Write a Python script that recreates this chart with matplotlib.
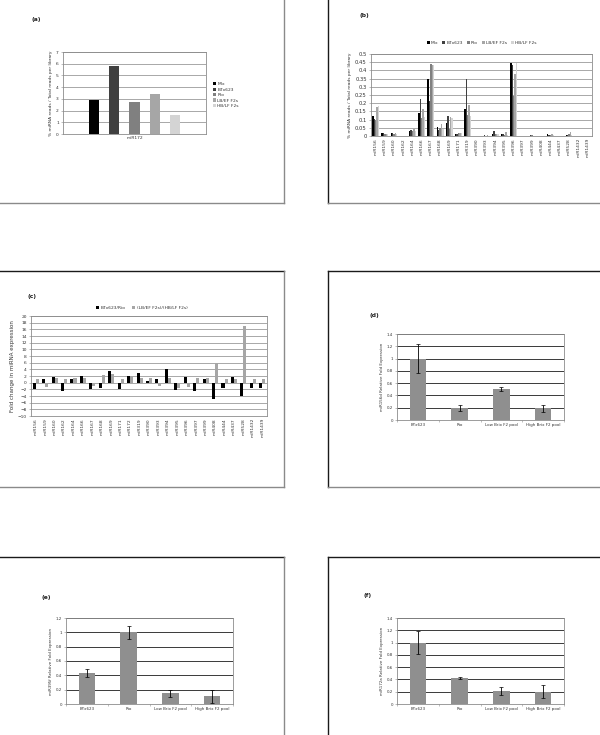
"""Six-panel miRNA figure: library read fractions (a, b), fold changes (c)
and qRT-PCR relative expression (d, e, f)."""
import numpy as np
import matplotlib
matplotlib.use("Agg")
import matplotlib.pyplot as plt
from matplotlib.lines import Line2D

W, H = 600, 735

# ---- data -------------------------------------------------------------
lib_names = ["Mix", "BTx623", "Rio", "LB/EF F2s", "HB/LF F2s"]
lib_colors = ["#000000", "#404040", "#808080", "#a6a6a6", "#d4d4d4"]

a_cat = ["miR172"]
a_vals = [2.9, 5.8, 2.7, 3.45, 1.65]

b_cat = ["miR156", "miR159", "miR160", "miR162", "miR164", "miR166", "miR167",
         "miR168", "miR169", "miR171", "miR319", "miR390", "miR393", "miR394",
         "miR395", "miR396", "miR397", "miR399", "miR408", "miR444", "miR437",
         "miR528", "miR1432", "miR1439"]
b_mix = [0.12, 0.02, 0.018, 0, 0.028, 0.14, 0.345, 0.055, 0.08, 0.015, 0.165, 0,
         0.003, 0.015, 0.01, 0.445, 0, 0.003, 0.001, 0.01, 0, 0.008, 0.002, 0]
b_btx = [0.105, 0.02, 0.018, 0, 0.038, 0.225, 0.215, 0.035, 0.125, 0.01, 0.35, 0,
         0.005, 0.028, 0.01, 0.435, 0, 0.005, 0.002, 0.008, 0, 0.005, 0.002, 0]
b_rio = [0.095, 0.015, 0.012, 0, 0.03, 0.11, 0.44, 0.05, 0.04, 0.02, 0.13, 0,
         0.003, 0.01, 0.005, 0.245, 0, 0.004, 0.001, 0.008, 0, 0.01, 0.001, 0]
b_lbef = [0.175, 0.012, 0.02, 0, 0.045, 0.165, 0.43, 0.075, 0.115, 0.02, 0.19, 0.002,
          0.005, 0.015, 0.025, 0.38, 0, 0.003, 0.002, 0.012, 0, 0.025, 0.002, 0]
b_hblf = [0.18, 0.012, 0.012, 0, 0.03, 0.115, 0.43, 0.04, 0.11, 0.02, 0.12, 0,
          0.003, 0.01, 0.008, 0.445, 0, 0.002, 0.001, 0.008, 0, 0.005, 0.001, 0]

c_cat = ["miR156", "miR159", "miR160", "miR162", "miR164", "miR166", "miR167",
         "miR168", "miR169", "miR171", "miR172", "miR319", "miR390", "miR393",
         "miR394", "miR395", "miR396", "miR397", "miR399", "miR408", "miR444",
         "miR437", "miR528", "miR1432", "miR1439"]
c_parent = [-1.8, 1.2, 1.8, -2.5, 1.2, 2.0, -2.0, -1.5, 3.5, -2.0, 2.0, 2.8, 0.5,
            1.2, 4.0, -2.2, 1.8, -2.5, 1.0, -5.0, -1.5, 1.8, -4.0, -1.5, -1.5]
c_f2 = [1.0, -1.2, 1.5, 1.2, 1.5, 1.5, -1.0, 2.2, 2.5, 1.0, 2.0, 1.5, 1.3,
        -1.0, 1.5, -1.5, -1.2, 1.5, 1.5, 6.0, 1.2, 1.2, 17.0, 1.2, 1.2]
c_names = ["BTx623/Rio", "(LB/EF F2s)/(HB/LF F2s)"]

q_cat = ["BTx623", "Rio", "Low Brix F2 pool", "High Brix F2 pool"]
d_vals = [1.0, 0.2, 0.5, 0.19]
d_err = [0.235, 0.05, 0.03, 0.055]
e_vals = [0.43, 1.0, 0.15, 0.11]
e_err = [0.06, 0.09, 0.05, 0.09]
f_vals = [1.0, 0.42, 0.21, 0.2]
f_err = [0.19, 0.012, 0.06, 0.11]

FS = 3.2
TXT = "#333333"
GRID_GRAY = "#9a9a9a"


def add_ax(fig, l, t, r, b):
    return fig.add_axes([l / W, 1 - b / H, (r - l) / W, (b - t) / H])


def style(ax, grid_color):
    for s in ax.spines.values():
        s.set_color("#8c8c8c")
        s.set_linewidth(0.6)
    ax.tick_params(labelsize=FS, length=1.5, width=0.4, colors="#8c8c8c",
                   labelcolor=TXT, pad=1.5)
    ax.set_axisbelow(True)
    ax.yaxis.grid(True, color=grid_color, lw=0.6)


def fig_line(fig, xs, ys, color, lw=1.0):
    fig.add_artist(Line2D([x / W for x in xs], [1 - y / H for y in ys],
                          color=color, lw=lw, transform=fig.transFigure))


def tag(fig, x, y, s):
    fig.text(x / W, 1 - y / H, s, fontsize=4.3, fontweight="bold", va="center",
             color="#222222")


def fmt(v):
    return ("%g" % v)


fig = plt.figure(figsize=(W / 100, H / 100), dpi=100)
fig.patch.set_facecolor("white")

# ---- panel boxes ------------------------------------------------------
DARK, LIGHT = "#1a1a1a", "#8a8a8a"
fig_line(fig, [284, 284], [-5, 203], LIGHT)
fig_line(fig, [-5, 284], [203, 203], LIGHT)
fig_line(fig, [328, 328], [-5, 203], DARK)
fig_line(fig, [328, 605], [203, 203], LIGHT)
fig_line(fig, [-5, 284], [271, 271], DARK)
fig_line(fig, [284, 284], [271, 487], LIGHT)
fig_line(fig, [-5, 284], [487, 487], LIGHT)
fig_line(fig, [328, 605], [271, 271], DARK)
fig_line(fig, [328, 328], [271, 487], DARK)
fig_line(fig, [328, 605], [487, 487], LIGHT)
fig_line(fig, [-5, 284], [557, 557], DARK)
fig_line(fig, [284, 284], [557, 740], LIGHT)
fig_line(fig, [328, 605], [557, 557], DARK)
fig_line(fig, [328, 328], [557, 740], DARK)

# ---- (a) ----------------------------------------------------------------
ax = add_ax(fig, 63, 52, 206, 134)
style(ax, GRID_GRAY)
for i, (v, c, n) in enumerate(zip(a_vals, lib_colors, lib_names)):
    ax.bar(i, v, width=0.5, color=c, label=n)
ax.set_xlim(-1.5, 5.5)
ax.set_ylim(0, 7)
ax.set_yticks(range(8))
ax.set_xticks([2])
ax.set_xticklabels(a_cat)
ax.tick_params(axis="x", length=0)
ax.set_ylabel("% miRNA reads / Total reads per library", fontsize=FS, labelpad=2,
              color=TXT)
ax.legend(loc="center left", bbox_to_anchor=(1.02, 0.475), fontsize=FS, frameon=False,
          handlelength=0.7, handleheight=0.7, handletextpad=0.3, labelspacing=0.3,
          labelcolor=TXT)
tag(fig, 31, 20, "(a)")

# ---- (b) ----------------------------------------------------------------
ax = add_ax(fig, 371, 54, 592, 136)
style(ax, GRID_GRAY)
x = np.arange(len(b_cat))
bw = 0.15
for k, (vals, c, n) in enumerate(zip([b_mix, b_btx, b_rio, b_lbef, b_hblf],
                                     lib_colors, lib_names)):
    ax.bar(x + (k - 2) * bw, vals, width=bw, color=c, label=n)
ax.set_xlim(-0.5, len(b_cat) - 0.5)
ax.set_ylim(0, 0.5)
yt = np.arange(0, 0.501, 0.05)
ax.set_yticks(yt)
ax.set_yticklabels([fmt(round(v, 2)) for v in yt])
ax.tick_params(axis="y", labelsize=FS + 0.6)
ax.set_xticks(x)
ax.set_xticklabels(b_cat, rotation=90)
ax.tick_params(axis="x", length=0)
ax.set_ylabel("% miRNA reads / Total reads per library", fontsize=FS, labelpad=2,
              color=TXT)
ax.legend(loc="lower center", bbox_to_anchor=(0.5, 1.06), ncol=5, fontsize=FS,
          frameon=False, handlelength=0.7, handleheight=0.7, handletextpad=0.3,
          columnspacing=0.8, labelcolor=TXT)
tag(fig, 360, 15, "(b)")

# ---- (c) ----------------------------------------------------------------
ax = add_ax(fig, 31, 316, 267, 416)
style(ax, GRID_GRAY)
x = np.arange(len(c_cat))
ax.bar(x - 0.16, c_parent, width=0.32, color="#000000", label=c_names[0])
ax.bar(x + 0.16, c_f2, width=0.32, color="#a6a6a6", label=c_names[1])
ax.set_xlim(-0.5, len(c_cat) - 0.5)
ax.set_ylim(-10, 20)
ax.set_yticks(range(-10, 21, 2))
ax.set_xticks(x)
ax.set_xticklabels(c_cat, rotation=90)
ax.tick_params(axis="x", length=0)
ax.set_ylabel("Fold change in miRNA expression", fontsize=FS + 0.8, labelpad=2,
              color=TXT)
ax.legend(loc="lower center", bbox_to_anchor=(0.47, 1.02), ncol=2, fontsize=FS,
          frameon=False, handlelength=0.7, handleheight=0.7, handletextpad=0.3,
          columnspacing=1.5, labelcolor=TXT)
tag(fig, 27, 297, "(c)")


# ---- (d), (e), (f) ------------------------------------------------------
def qpcr(box, vals, err, top, ylabel, label, tagxy):
    ax = add_ax(fig, *box)
    style(ax, "#1a1a1a")
    x = np.arange(len(q_cat))
    ax.bar(x, vals, width=0.4, color="#8f8f8f")
    ax.errorbar(x, vals, yerr=err, fmt="none", ecolor="black", elinewidth=0.6,
                capsize=1.2, capthick=0.5)
    ax.set_xlim(-0.5, len(q_cat) - 0.5)
    ax.set_ylim(0, top)
    yt = np.arange(0, top + 0.001, 0.2)
    ax.set_yticks(yt)
    ax.set_yticklabels([fmt(round(v, 1)) for v in yt])
    ax.set_xticks(x)
    ax.set_xticklabels(q_cat)
    ax.set_xticks(np.arange(-0.5, len(q_cat)), minor=True)
    ax.tick_params(labelsize=2.9)
    ax.tick_params(axis="x", which="major", length=0, pad=2.5)
    ax.tick_params(axis="x", which="minor", length=1.5, width=0.4, colors="#8c8c8c")
    ax.set_ylabel(ylabel, fontsize=2.9, labelpad=2, color=TXT)
    tag(fig, tagxy[0], tagxy[1], label)


qpcr((397, 334, 564, 420), d_vals, d_err, 1.4,
     "miR156d Relative Fold Expression", "(d)", (370, 316))
qpcr((66, 618, 233, 704), e_vals, e_err, 1.2,
     "miR395f Relative Fold Expression", "(e)", (41, 598))
qpcr((397, 618, 564, 704), f_vals, f_err, 1.4,
     "miR172a Relative Fold Expression", "(f)", (363, 596))

fig.savefig("out.png", dpi=100, facecolor="white")
